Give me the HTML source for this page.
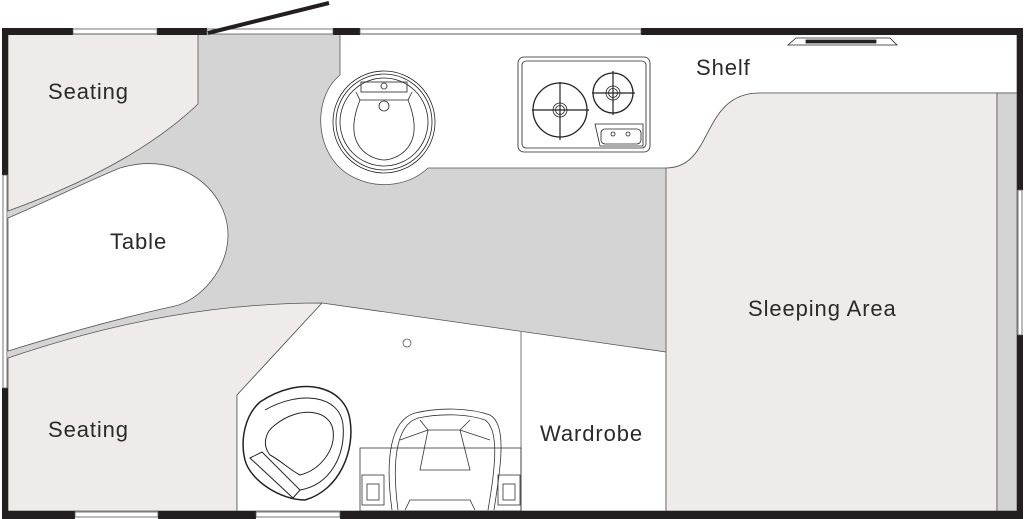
<!DOCTYPE html>
<html><head><meta charset="utf-8"><style>
html,body{margin:0;padding:0;background:#fff;width:1024px;height:519px;overflow:hidden}
svg{display:block}
text{font-family:"Liberation Sans",sans-serif;font-size:22px;fill:#2a2a2a;letter-spacing:0.9px}
</style></head><body>
<svg width="1024" height="519" viewBox="0 0 1024 519" xmlns="http://www.w3.org/2000/svg">
<rect x="8" y="34" width="1009" height="477" fill="#d4d4d4"/>
<path d="M8 34 H198 V104 C150 150 80 185 8 211 Z" fill="#eeebea" stroke="#555" stroke-width="0.8"/>
<path d="M8 218 C50 200 90 180 120 168 C180 150 228 190 228 235 C228 270 200 300 175 306 C120 318 60 335 8 351 Z" fill="#fff" stroke="#555" stroke-width="0.8"/>
<path d="M8 358 C120 320 220 303 322 303 L237 395 V511 H8 Z" fill="#eeebea" stroke="#555" stroke-width="0.8"/>
<path d="M322 303 L666 352 V511 H237 V395 Z" fill="#fff" stroke="#555" stroke-width="0.8"/>
<line x1="521" y1="332" x2="521" y2="511" stroke="#555" stroke-width="0.8"/>
<circle cx="407" cy="343" r="4" fill="none" stroke="#555" stroke-width="0.8"/>
<path d="M340 34 H1017 V93 H760 C700 93 715 168 666 168 H428 C410 185 380 190 355 178 C315 160 310 100 340 75 Z" fill="#fff" stroke="#555" stroke-width="0.8"/>
<path d="M666 511 V168 C715 168 700 93 760 93 H997 V511 Z" fill="#eeebea" stroke="#555" stroke-width="0.8"/>
<rect x="997" y="93" width="20" height="418" fill="#d4d4d4" stroke="#555" stroke-width="0.8"/>
<g fill="none" stroke="#222" stroke-width="0.8">
<circle cx="384" cy="122" r="51"/><circle cx="384" cy="122" r="48"/><circle cx="384" cy="122" r="44"/>
<path d="M356 92 L360 100 H408 L412 92"/>
<rect x="361" y="82" width="46" height="10"/>
<circle cx="384" cy="86" r="3"/><circle cx="384" cy="106" r="5"/>
<path d="M360 100 C340 150 375 160 384 160 C393 160 428 150 408 100"/>
</g>
<g fill="none" stroke="#222" stroke-width="0.8">
<rect x="518" y="57" width="132" height="95" rx="6"/>
<rect x="522" y="61" width="124" height="87" rx="4"/>
<circle cx="560" cy="110" r="27" stroke-width="1.3"/><circle cx="560" cy="110" r="7"/><circle cx="560" cy="110" r="4.5"/>
<line x1="532" y1="110" x2="589" y2="110" stroke-width="1.2"/><line x1="560" y1="82" x2="560" y2="140" stroke-width="1.2"/>
<circle cx="613" cy="93" r="20" stroke-width="1.3"/><circle cx="613" cy="93" r="7"/><circle cx="613" cy="93" r="4.5"/>
<line x1="592" y1="93" x2="635" y2="93" stroke-width="1.2"/><line x1="613" y1="71" x2="613" y2="115" stroke-width="1.2"/>
<path d="M595 124 H643 V146 H600 Z"/>
<rect x="601" y="129" width="40" height="15" rx="4"/>
<circle cx="613" cy="134" r="2"/><circle cx="628" cy="134" r="2"/>
</g>
<g fill="none" stroke="#222" stroke-width="0.8">
<path d="M788 45 H897 L890 38 H796 Z" fill="#fff"/>
<rect x="806" y="40" width="70" height="3" fill="#222"/>
</g>
<g fill="none" stroke="#222" stroke-width="1">
<path d="M260 402 C300 375 345 385 350 420 C355 450 340 490 305 500 C280 500 250 480 245 460 C240 440 245 415 260 402 Z" stroke-width="1.5"/>
<path d="M265 410 C300 390 340 395 343 425 C346 455 330 485 300 490"/>
<path d="M275 425 C300 405 330 410 333 430 C336 450 320 470 300 475 C290 470 280 460 270 455 C262 445 265 432 275 425 Z"/>
<path d="M250 458 L262 452 L300 490 L293 498 Z"/>
</g>
<g fill="none" stroke="#333" stroke-width="0.8">
<rect x="360" y="448" width="161" height="63"/>
<path d="M392 510 C385 460 390 420 415 413 C440 407 470 408 490 415 C508 425 500 470 494 510"/>
<path d="M398 510 C392 465 395 425 418 418 C442 413 468 414 485 420 C500 430 495 470 488 510"/>
<path d="M420 470 L428 430 H460 L470 470 Z"/>
<path d="M400 440 L428 430 M460 430 L490 440 M428 430 L420 420 M460 430 L470 420"/>
<rect x="362" y="475" width="22" height="30"/><rect x="498" y="475" width="22" height="30"/>
<rect x="367" y="484" width="12" height="16"/><rect x="503" y="484" width="12" height="16"/>
<path d="M405 510 L410 500 H470 L475 510"/>
</g>
<g fill="#231f20">
<rect x="2" y="28" width="71" height="7"/>
<rect x="157" y="28" width="50" height="7"/>
<rect x="333" y="28" width="27" height="7"/>
<rect x="641" y="28" width="382" height="7"/>
<rect x="2" y="28" width="6" height="147"/>
<rect x="2" y="388" width="6" height="131"/>
<rect x="1017" y="28" width="6" height="162"/>
<rect x="1017" y="335" width="6" height="184"/>
<rect x="2" y="511" width="73" height="8"/>
<rect x="158" y="511" width="98" height="8"/>
<rect x="340" y="511" width="683" height="8"/>
</g>
<g fill="none" stroke="#555" stroke-width="0.8">
<rect x="73" y="29" width="84" height="5"/>
<rect x="207" y="29" width="126" height="5"/>
<rect x="360" y="29" width="281" height="5"/>
<rect x="3" y="175" width="4" height="213"/>
<rect x="1018" y="190" width="4" height="145"/>
<rect x="75" y="512" width="83" height="5"/>
<rect x="256" y="512" width="84" height="5"/>
</g>
<line x1="208" y1="33" x2="329" y2="3" stroke="#231f20" stroke-width="4"/>
<text x="48" y="99">Seating</text>
<text x="110" y="249">Table</text>
<text x="48" y="437">Seating</text>
<text x="696" y="75">Shelf</text>
<text x="748" y="316">Sleeping Area</text>
<text x="540" y="441">Wardrobe</text>
</svg>
</body></html>
